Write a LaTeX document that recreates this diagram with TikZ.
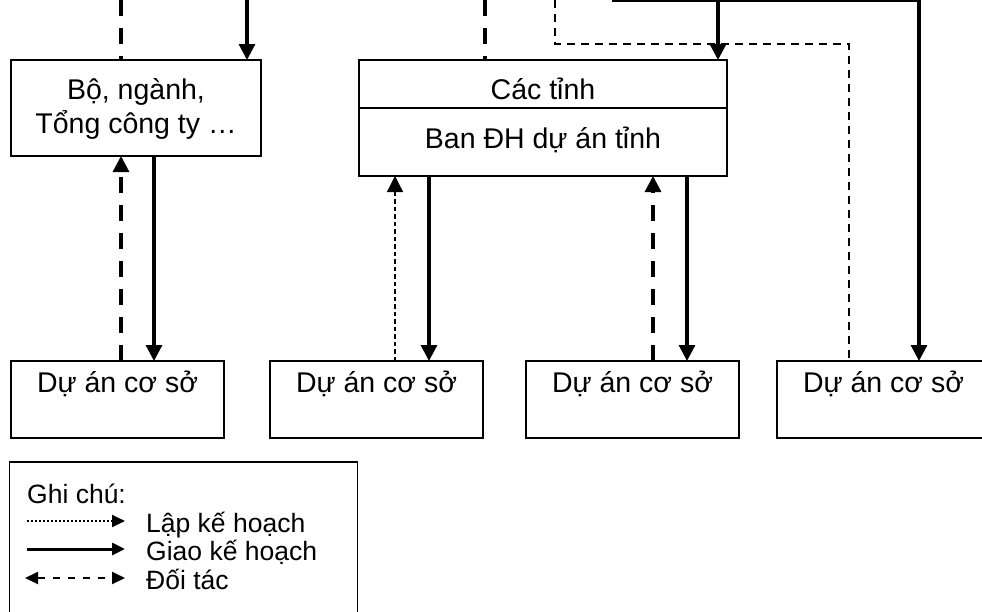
\documentclass[tikz,border=0pt]{standalone}
\usepackage{fontspec}
\setmainfont{Liberation Sans}
\usetikzlibrary{arrows.meta}

\begin{document}
\begin{tikzpicture}[x=1pt,y=-1pt,
  box/.style={draw,line width=1.8pt,inner sep=0pt,outer sep=0pt},
  lbl/.style={font=\fontsize{28.5}{34}\selectfont,inner sep=0pt,anchor=base},
  leglbl/.style={font=\fontsize{26.5}{30}\selectfont,inner sep=0pt,anchor=base west},
  tip/.style={-{Triangle[width=16pt,length=16pt]}},
  legtip/.style={-{Triangle[width=12pt,length=13pt]}},
  giao/.style={line width=3.2pt,tip},
  doitac/.style={line width=3.2pt,dash pattern=on 16pt off 12pt},
  lap/.style={line width=1.3pt,dash pattern=on 4.5pt off 3pt},
  mong/.style={line width=1.5pt,dash pattern=on 8pt off 6pt},
]
\useasboundingbox (0,0) rectangle (982,611);

% upper level boxes
\node[box,minimum width=250pt,minimum height=96pt] (bo) at (136,108) {};
\node[lbl] (bo1) at (136,99) {Bộ, ngành,};
\node[lbl] (bo2) at (136,133) {Tổng công ty …};

\node[box,minimum width=368pt,minimum height=116pt] (tinh) at (543,118) {};
\draw[line width=1.8pt] (tinh.west |- 0,108) -- (tinh.east |- 0,108);
\node[lbl] (tinh1) at (543,99) {Các tỉnh};
\node[lbl] (tinh2) at (543,148) {Ban ĐH dự án tỉnh};

% base projects
\foreach \n/\cx in {d1/117.5,d2/376.5,d3/632.5,d4/883.5}{
  \node[box,minimum width=213pt,minimum height=77pt] (\n) at (\cx,399.5) {};
  \node[lbl] (\n t) at (\cx,392) {Dự án cơ sở};
}

% free ends at the top edge
\coordinate (ta) at (121,0);
\coordinate (tb) at (247,0);
\coordinate (tc) at (485,0);
\coordinate (td) at (555,0);
\coordinate (te) at (612,0);
\coordinate (tf) at (718,0);
\coordinate (tg) at (919,0);
\coordinate (th) at (555,44);
\coordinate (ti) at (849,44);

% connectors into the upper boxes
\draw[doitac] (ta) -- (ta |- bo.north);
\draw[giao] (tb) -- (tb |- bo.north);
\draw[doitac] (tc) -- (tc |- tinh.north);
\draw[giao] (tf) -- (tf |- tinh.north);
\draw[line width=3.2pt] (te) -- (tg);
\draw[giao] (tg) -- (tg |- d4.north);
\draw[mong] (td) -- (th) -- (ti) -- (ti |- d4.north);

% Bo nganh <-> project
\draw[doitac,tip] (121,0 |- d1.north) -- (121,0 |- bo.south);
\draw[giao] (154,0 |- bo.south) -- (154,0 |- d1.north);

% Cac tinh <-> projects
\draw[lap,tip] (395,0 |- d2.north) -- (395,0 |- tinh.south);
\draw[giao] (429,0 |- tinh.south) -- (429,0 |- d2.north);
\draw[doitac,tip] (653,0 |- d3.north) -- (653,0 |- tinh.south);
\draw[giao] (687,0 |- tinh.south) -- (687,0 |- d3.north);

% legend
\node[box,minimum width=348pt,minimum height=170pt] (leg) at (183.5,547) {};
\node[leglbl] (g0) at (27,503) {Ghi chú:};
\node[leglbl] (g1) at (146,532) {Lập kế hoạch};
\node[leglbl] (g2) at (146,560) {Giao kế hoạch};
\node[leglbl] (g3) at (146,589) {Đối tác};
\coordinate (l1a) at (27,521);  \coordinate (l1b) at (125,521);
\coordinate (l2a) at (27,549);  \coordinate (l2b) at (125,549);
\coordinate (l3a) at (25,578);  \coordinate (l3b) at (125,578);
\draw[line width=2pt,dash pattern=on 1.6pt off 2.4pt,legtip] (l1a) -- (l1b);
\draw[line width=3pt,legtip] (l2a) -- (l2b);
\draw[line width=2pt,dash pattern=on 7pt off 8pt,{Triangle[width=12pt,length=13pt]}-{Triangle[width=12pt,length=13pt]}] (l3a) -- (l3b);
\end{tikzpicture}
\end{document}
